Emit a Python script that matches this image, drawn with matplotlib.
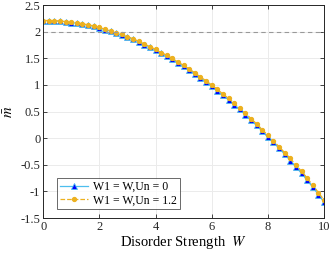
import numpy as np
import matplotlib
matplotlib.use("Agg")
import matplotlib.pyplot as plt

# disorder strength W = 0:0.2:10
W = [0.0, 0.2, 0.4, 0.6, 0.8, 1.0, 1.2, 1.4, 1.6, 1.8,
     2.0, 2.2, 2.4, 2.6, 2.8, 3.0, 3.2, 3.4, 3.6, 3.8,
     4.0, 4.2, 4.4, 4.6, 4.8, 5.0, 5.2, 5.4, 5.6, 5.8,
     6.0, 6.2, 6.4, 6.6, 6.8, 7.0, 7.2, 7.4, 7.6, 7.8,
     8.0, 8.2, 8.4, 8.6, 8.8, 9.0, 9.2, 9.4, 9.6, 9.8, 10.0]

m_un0 = [2.21, 2.21, 2.20, 2.20, 2.19, 2.17, 2.16, 2.14, 2.12, 2.10,
         2.07, 2.04, 2.01, 1.97, 1.94, 1.90, 1.86, 1.81, 1.76, 1.71,
         1.66, 1.60, 1.54, 1.48, 1.42, 1.35, 1.28, 1.21, 1.13, 1.06,
         0.98, 0.89, 0.81, 0.72, 0.63, 0.54, 0.44, 0.34, 0.24, 0.13,
         0.02, -0.08, -0.19, -0.30, -0.42, -0.54, -0.66, -0.79, -0.92, -1.06, -1.20]

m_un12 = [2.21, 2.21, 2.21, 2.20, 2.19, 2.18, 2.17, 2.15, 2.13, 2.11,
          2.08, 2.05, 2.02, 1.98, 1.95, 1.91, 1.87, 1.82, 1.77, 1.72,
          1.67, 1.61, 1.56, 1.50, 1.43, 1.37, 1.30, 1.23, 1.15, 1.08,
          1.00, 0.92, 0.83, 0.75, 0.66, 0.56, 0.47, 0.37, 0.27, 0.16,
          0.06, -0.05, -0.16, -0.27, -0.38, -0.50, -0.62, -0.75, -0.88, -1.02, -1.16]

ref_level = 2.0

plt.rcParams['font.family'] = ['Liberation Serif', 'DejaVu Serif']
plt.rcParams['mathtext.fontset'] = 'stix'

fig = plt.figure(figsize=(3.32, 2.56), dpi=100)
ax = fig.add_axes([0.13, 0.148, 0.846, 0.832])

ax.plot(W, m_un0, '-', color='#4DBEEE', lw=0.9, marker='^', ms=5,
        mfc='#0000FF', mec='#4DBEEE', mew=0.6, label='W1 = W,Un = 0')
ax.plot(W, m_un12, '--', color='#EDB120', lw=0.9, marker='o', ms=2.8,
        mfc='#EDB120', mec='#EDB120', label='W1 = W,Un = 1.2')
ax.axhline(ref_level, color='#999999', ls='--', lw=0.8, dashes=(4, 3))

ax.set_xlim(0, 10)
ax.set_ylim(-1.5, 2.5)
ax.set_xticks([0, 2, 4, 6, 8, 10])
ax.set_yticks([-1.5, -1, -0.5, 0, 0.5, 1, 1.5, 2, 2.5])
ax.set_yticklabels(['-1.5', '-1', '-0.5', '0', '0.5', '1', '1.5', '2', '2.5'])
ax.grid(True, color='#ebebeb', lw=0.7)
ax.set_axisbelow(True)
ax.tick_params(direction='in', top=True, right=True, labelsize=9,
               length=3, width=0.6, colors='#262626', pad=2)
for s in ax.spines.values():
    s.set_color('#262626')
    s.set_linewidth(0.7)

ax.set_xlabel(r'Disorder Strength  $W$', fontsize=10.5, labelpad=1)
ax.set_ylabel(r'$\bar{m}$', fontsize=10.5, labelpad=3)

leg = ax.legend(loc='lower left', bbox_to_anchor=(0.04, 0.03), fontsize=8.5,
                frameon=True, fancybox=False, edgecolor='#262626',
                handlelength=2.4, borderpad=0.25, labelspacing=0.15,
                handletextpad=0.4, borderaxespad=0.2)
leg.get_frame().set_linewidth(0.6)

fig.savefig('out.png', dpi=100)
